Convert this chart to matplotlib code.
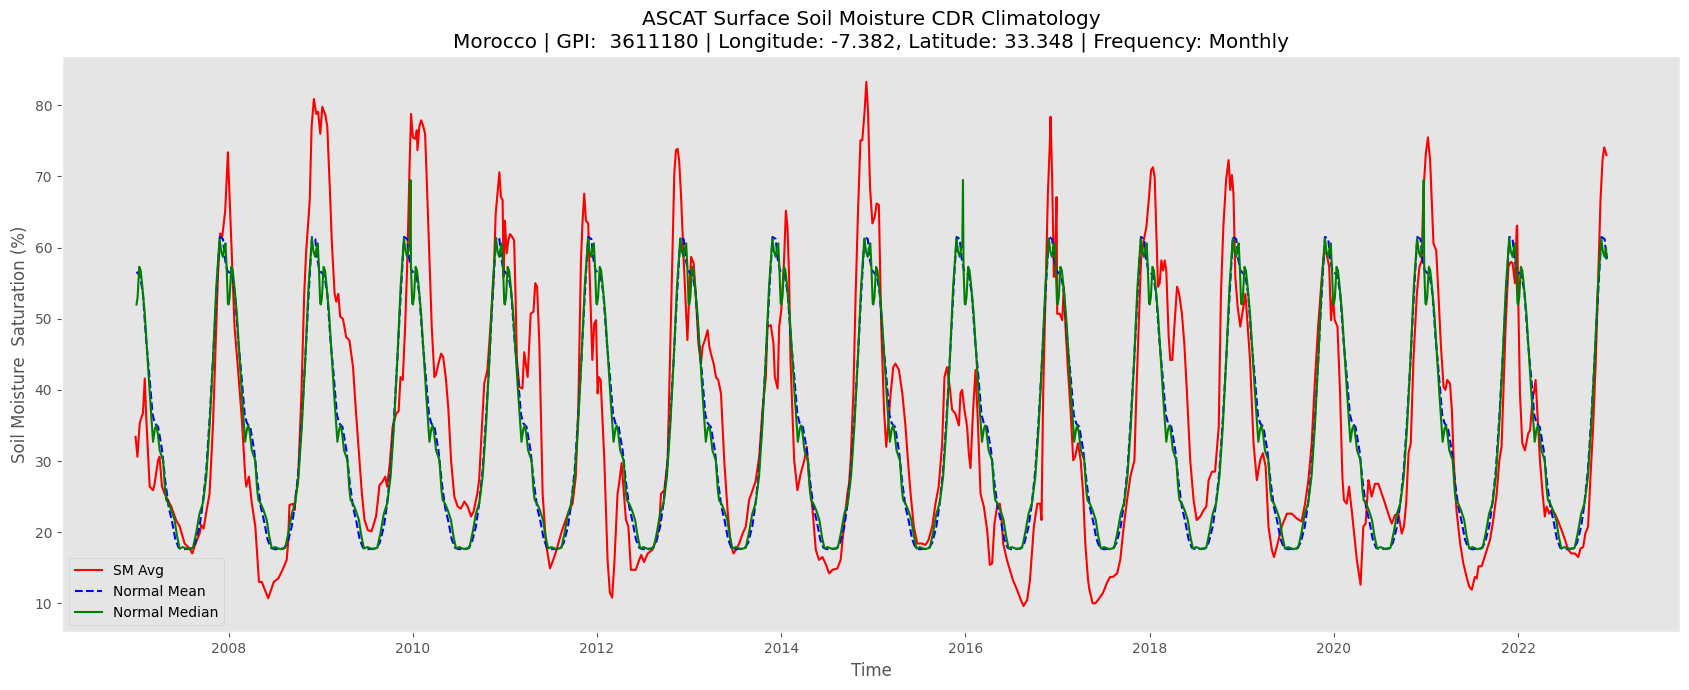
import matplotlib
matplotlib.use("Agg")
import matplotlib.pyplot as plt
import numpy as np
import pandas as pd

# ---------------- data ----------------
# SM Avg: (decimal year, soil moisture %)
sm_avg_points = [
    (2006.99, 33.4), (2007.01, 30.6), (2007.035, 35.3), (2007.06, 36.4), (2007.07, 36.7),
    (2007.09, 41.6), (2007.107, 35.8), (2007.143, 26.4), (2007.18, 25.9), (2007.197, 26.8),
    (2007.234, 30.1), (2007.25, 30.6), (2007.277, 26.4), (2007.306, 25.4), (2007.378, 23.6),
    (2007.43, 21.7), (2007.469, 20.8), (2007.523, 18.4), (2007.577, 17.7), (2007.606, 17.0),
    (2007.65, 18.7), (2007.686, 19.8), (2007.703, 21.0), (2007.729, 20.5), (2007.769, 23.6),
    (2007.794, 25.4), (2007.83, 34.8), (2007.855, 44.2), (2007.884, 55.9), (2007.91, 62.0),
    (2007.931, 61.5), (2007.964, 65.2), (2007.993, 73.4), (2008.01, 67.6), (2008.03, 60.6),
    (2008.065, 48.9), (2008.101, 43.2), (2008.145, 35.7), (2008.181, 27.8), (2008.192, 26.4),
    (2008.221, 27.8), (2008.253, 24.0), (2008.29, 20.8), (2008.318, 15.2), (2008.33, 13.0),
    (2008.36, 13.0), (2008.43, 10.7), (2008.49, 13.0), (2008.54, 13.5), (2008.585, 14.7),
    (2008.63, 16.1), (2008.645, 18.4), (2008.66, 23.8), (2008.70, 24.0), (2008.716, 23.1),
    (2008.73, 25.4), (2008.752, 26.8), (2008.79, 39.5), (2008.82, 53.5), (2008.84, 59.2),
    (2008.88, 66.7), (2008.90, 77.0), (2008.925, 80.9), (2008.95, 78.8), (2008.97, 79.1),
    (2008.994, 76.0), (2009.016, 79.8), (2009.05, 78.6), (2009.07, 77.0), (2009.10, 67.6),
    (2009.12, 60.6), (2009.15, 53.5), (2009.168, 52.4), (2009.19, 53.5), (2009.21, 50.3),
    (2009.24, 50.0), (2009.276, 47.4), (2009.31, 47.0), (2009.35, 43.2), (2009.38, 37.2),
    (2009.42, 30.1), (2009.446, 25.4), (2009.475, 21.7), (2009.51, 20.3), (2009.55, 20.1),
    (2009.576, 21.2), (2009.60, 22.2), (2009.62, 24.5), (2009.637, 26.6), (2009.67, 27.1),
    (2009.70, 27.8), (2009.72, 26.4), (2009.75, 29.7), (2009.78, 34.8), (2009.82, 36.7),
    (2009.845, 37.0), (2009.866, 41.8), (2009.89, 41.4), (2009.916, 48.9), (2009.94, 58.2),
    (2009.963, 70.9), (2009.98, 78.8), (2010.0, 75.5), (2010.025, 75.3), (2010.043, 76.5),
    (2010.05, 73.7), (2010.07, 77.0), (2010.09, 77.9), (2010.11, 77.2), (2010.133, 76.0),
    (2010.15, 69.9), (2010.18, 58.2), (2010.205, 48.9), (2010.234, 41.8), (2010.25, 42.1),
    (2010.278, 43.7), (2010.307, 45.1), (2010.33, 44.6), (2010.36, 41.4), (2010.386, 37.2),
    (2010.415, 30.1), (2010.45, 25.0), (2010.487, 23.6), (2010.52, 23.3), (2010.56, 24.3),
    (2010.596, 23.6), (2010.632, 22.2), (2010.66, 22.9), (2010.70, 25.4), (2010.72, 27.3),
    (2010.75, 34.8), (2010.776, 40.9), (2010.81, 42.8), (2010.84, 48.4), (2010.878, 55.9),
    (2010.90, 64.8), (2010.94, 70.6), (2010.957, 67.1), (2010.975, 66.7), (2010.986, 55.9),
    (2011.0, 63.8), (2011.02, 59.2), (2011.037, 61.0), (2011.055, 61.9), (2011.07, 61.7),
    (2011.10, 61.0), (2011.115, 53.5), (2011.13, 44.2), (2011.157, 40.4), (2011.19, 40.2),
    (2011.21, 45.3), (2011.247, 41.8), (2011.28, 50.7), (2011.31, 51.0), (2011.33, 55.0),
    (2011.35, 54.5), (2011.374, 46.5), (2011.41, 25.4), (2011.446, 18.4), (2011.49, 14.9),
    (2011.536, 16.5), (2011.57, 17.9), (2011.61, 19.8), (2011.66, 21.7), (2011.70, 23.1),
    (2011.735, 24.0), (2011.77, 27.8), (2011.797, 37.2), (2011.826, 58.2), (2011.844, 63.8),
    (2011.862, 67.6), (2011.88, 63.8), (2011.905, 63.4), (2011.927, 53.5), (2011.95, 44.2),
    (2011.97, 49.3), (2011.99, 49.8), (2012.007, 39.5), (2012.02, 41.8), (2012.04, 41.4),
    (2012.08, 30.1), (2012.115, 16.1), (2012.14, 11.5), (2012.165, 10.8), (2012.19, 16.0),
    (2012.223, 25.4), (2012.24, 26.8), (2012.267, 29.7), (2012.314, 21.7), (2012.34, 20.8),
    (2012.368, 14.7), (2012.42, 14.7), (2012.458, 16.1), (2012.48, 16.8), (2012.51, 15.8),
    (2012.55, 17.0), (2012.60, 17.5), (2012.64, 18.9), (2012.675, 20.8), (2012.694, 25.4),
    (2012.73, 25.9), (2012.766, 30.1), (2012.80, 48.9), (2012.838, 70.4), (2012.856, 73.7),
    (2012.874, 73.9), (2012.89, 72.3), (2012.91, 67.6), (2012.94, 58.2), (2012.965, 51.2),
    (2012.98, 47.0), (2013.0, 53.5), (2013.02, 58.7), (2013.048, 57.8), (2013.07, 53.5),
    (2013.10, 46.5), (2013.127, 43.7), (2013.145, 46.1), (2013.17, 47.0), (2013.2, 48.4),
    (2013.218, 46.1), (2013.235, 45.1), (2013.265, 43.7), (2013.29, 41.8), (2013.315, 41.4),
    (2013.345, 39.5), (2013.38, 30.1), (2013.416, 23.1), (2013.45, 18.4), (2013.48, 17.0),
    (2013.507, 17.5), (2013.543, 18.4), (2013.58, 19.8), (2013.615, 20.8), (2013.65, 24.5),
    (2013.688, 25.9), (2013.72, 27.1), (2013.76, 30.6), (2013.796, 37.2), (2013.832, 41.8),
    (2013.85, 48.9), (2013.886, 49.1), (2013.915, 46.5), (2013.93, 41.8), (2013.96, 40.2),
    (2013.977, 48.9), (2014.0, 51.2), (2014.03, 58.2), (2014.05, 65.2), (2014.067, 62.9),
    (2014.085, 55.9), (2014.10, 44.2), (2014.14, 30.1), (2014.175, 25.9), (2014.212, 28.3),
    (2014.25, 30.1), (2014.277, 32.0), (2014.30, 27.8), (2014.34, 23.1), (2014.375, 17.5),
    (2014.41, 16.1), (2014.447, 16.5), (2014.48, 15.6), (2014.52, 14.2), (2014.556, 14.7),
    (2014.61, 14.9), (2014.645, 16.1), (2014.68, 20.8), (2014.718, 25.4), (2014.736, 26.8),
    (2014.754, 30.1), (2014.783, 39.5), (2014.808, 53.5), (2014.834, 65.2), (2014.86, 75.1),
    (2014.88, 75.1), (2014.906, 79.3), (2014.924, 83.3), (2014.942, 79.3), (2014.964, 68.5),
    (2014.99, 63.4), (2015.015, 64.3), (2015.036, 66.2), (2015.06, 66.0), (2015.086, 48.9),
    (2015.116, 37.2), (2015.14, 32.0), (2015.16, 34.8), (2015.188, 39.5), (2015.217, 43.2),
    (2015.24, 43.7), (2015.278, 42.8), (2015.315, 39.5), (2015.35, 34.8), (2015.376, 30.1),
    (2015.405, 25.4), (2015.44, 20.8), (2015.477, 18.4), (2015.53, 18.4), (2015.567, 18.2),
    (2015.6, 18.9), (2015.64, 20.8), (2015.675, 24.0), (2015.71, 26.4), (2015.748, 32.5),
    (2015.773, 41.8), (2015.80, 43.2), (2015.83, 40.4), (2015.856, 37.2), (2015.89, 36.7),
    (2015.93, 35.0), (2015.947, 39.5), (2015.965, 40.0), (2015.99, 37.2), (2016.019, 34.8),
    (2016.037, 31.1), (2016.055, 29.0), (2016.084, 37.2), (2016.11, 42.8), (2016.135, 35.7),
    (2016.164, 25.4), (2016.2, 23.6), (2016.236, 20.3), (2016.265, 15.4), (2016.29, 15.6),
    (2016.315, 21.2), (2016.344, 23.6), (2016.373, 24.0), (2016.388, 22.6), (2016.41, 18.4),
    (2016.45, 16.1), (2016.514, 13.3), (2016.56, 11.9), (2016.60, 10.5), (2016.63, 9.6),
    (2016.67, 10.5), (2016.70, 13.3), (2016.742, 20.8), (2016.78, 24.0), (2016.81, 24.0),
    (2016.825, 21.7), (2016.843, 39.5), (2016.868, 53.5), (2016.894, 67.6), (2016.915, 74.6),
    (2016.923, 78.4), (2016.94, 69.9), (2016.959, 55.9), (2016.975, 60.1), (2016.988, 67.1),
    (2016.995, 50.7), (2017.024, 50.7), (2017.05, 49.8), (2017.067, 54.5), (2017.085, 48.9),
    (2017.11, 43.2), (2017.14, 37.2), (2017.169, 30.1), (2017.19, 30.6), (2017.22, 32.5),
    (2017.25, 30.1), (2017.277, 25.4), (2017.30, 18.4), (2017.33, 13.3), (2017.345, 11.9),
    (2017.38, 10.0), (2017.41, 10.0), (2017.44, 10.5), (2017.49, 11.4), (2017.54, 13.0),
    (2017.57, 13.7), (2017.60, 13.7), (2017.646, 14.2), (2017.68, 16.1), (2017.718, 20.8),
    (2017.754, 24.5), (2017.79, 27.8), (2017.834, 30.1), (2017.855, 39.5), (2017.88, 48.9),
    (2017.906, 58.2), (2017.935, 61.0), (2017.964, 62.9), (2017.99, 66.7), (2018.015, 70.9),
    (2018.036, 71.3), (2018.054, 69.9), (2018.07, 62.9), (2018.09, 54.5), (2018.108, 55.0),
    (2018.127, 58.2), (2018.145, 56.8), (2018.163, 58.2), (2018.18, 56.8), (2018.206, 47.5),
    (2018.224, 44.2), (2018.246, 44.2), (2018.268, 48.9), (2018.297, 54.5), (2018.32, 53.5),
    (2018.35, 50.7), (2018.376, 46.5), (2018.405, 39.5), (2018.44, 30.1), (2018.477, 24.5),
    (2018.51, 21.7), (2018.55, 22.2), (2018.586, 23.1), (2018.615, 23.6), (2018.64, 27.3),
    (2018.676, 28.5), (2018.71, 28.5), (2018.75, 34.8), (2018.774, 53.5), (2018.80, 62.9),
    (2018.83, 69.5), (2018.857, 72.3), (2018.875, 68.1), (2018.893, 70.2), (2018.91, 67.6),
    (2018.93, 55.9), (2018.955, 51.7), (2018.984, 48.9), (2019.012, 51.2), (2019.04, 53.5),
    (2019.063, 49.3), (2019.09, 44.2), (2019.128, 32.5), (2019.164, 27.3), (2019.2, 30.1),
    (2019.23, 31.1), (2019.26, 29.2), (2019.29, 20.8), (2019.327, 17.5), (2019.35, 16.5),
    (2019.39, 18.4), (2019.435, 20.8), (2019.49, 22.6), (2019.544, 22.6), (2019.6, 21.9),
    (2019.65, 21.5), (2019.688, 24.0), (2019.724, 27.3), (2019.76, 32.5), (2019.797, 41.8),
    (2019.83, 48.9), (2019.87, 55.9), (2019.894, 59.2), (2019.92, 59.2), (2019.95, 57.3),
    (2019.97, 49.8), (2019.99, 53.1), (2020.01, 49.8), (2020.04, 48.9), (2020.068, 39.5),
    (2020.093, 27.8), (2020.11, 24.5), (2020.14, 24.0), (2020.165, 26.4), (2020.194, 23.1),
    (2020.22, 19.8), (2020.25, 16.1), (2020.277, 13.7), (2020.29, 12.6), (2020.32, 20.8),
    (2020.345, 21.2), (2020.375, 27.3), (2020.39, 26.4), (2020.41, 25.0), (2020.447, 26.8),
    (2020.483, 26.8), (2020.52, 25.4), (2020.556, 24.0), (2020.59, 22.6), (2020.628, 21.2),
    (2020.664, 22.4), (2020.7, 22.6), (2020.736, 19.8), (2020.76, 20.8), (2020.784, 24.0),
    (2020.81, 31.1), (2020.834, 32.5), (2020.863, 44.2), (2020.9, 53.5), (2020.928, 57.3),
    (2020.953, 58.2), (2020.97, 67.6), (2020.997, 73.2), (2021.02, 75.5), (2021.044, 72.3),
    (2021.08, 60.6), (2021.11, 59.6), (2021.134, 53.5), (2021.16, 46.5), (2021.19, 40.4),
    (2021.21, 40.0), (2021.23, 41.4), (2021.26, 40.9), (2021.28, 37.2), (2021.30, 30.1),
    (2021.33, 23.1), (2021.37, 18.4), (2021.405, 15.6), (2021.44, 13.7), (2021.47, 12.3),
    (2021.496, 11.9), (2021.53, 13.7), (2021.55, 13.5), (2021.57, 15.2), (2021.604, 15.2),
    (2021.66, 17.5), (2021.694, 18.9), (2021.73, 21.7), (2021.767, 25.4), (2021.796, 30.1),
    (2021.82, 32.0), (2021.84, 39.5), (2021.864, 48.9), (2021.894, 57.3), (2021.92, 58.0),
    (2021.94, 57.8), (2021.966, 55.0), (2021.984, 62.9), (2021.99, 63.1), (2022.0, 53.5),
    (2022.02, 39.5), (2022.045, 32.5), (2022.074, 31.5), (2022.11, 33.9), (2022.13, 34.3),
    (2022.157, 39.0), (2022.17, 39.5), (2022.19, 41.4), (2022.21, 36.7), (2022.237, 30.1),
    (2022.266, 25.4), (2022.29, 22.2), (2022.31, 23.6), (2022.338, 22.6), (2022.363, 23.1),
    (2022.4, 22.6), (2022.436, 21.5), (2022.472, 20.3), (2022.51, 18.9), (2022.544, 17.5),
    (2022.58, 17.0), (2022.617, 17.0), (2022.653, 16.5), (2022.678, 17.7), (2022.707, 17.9),
    (2022.73, 19.8), (2022.76, 20.8), (2022.786, 27.8), (2022.815, 34.8), (2022.844, 44.2),
    (2022.87, 55.9), (2022.895, 66.7), (2022.917, 72.3), (2022.935, 74.1), (2022.96, 73.0),
]

# Climatology (repeats every year): fraction of year and value
mean_clim_frac = [0.000, 0.040, 0.070, 0.105, 0.140, 0.175, 0.200, 0.235, 0.278, 0.314,
                  0.350, 0.386, 0.422, 0.458, 0.500, 0.600, 0.640, 0.685, 0.720, 0.758,
                  0.795, 0.831, 0.860, 0.885, 0.905, 0.940, 0.960, 0.985]
mean_clim_value = [56.6, 56.0, 53.5, 47.0, 42.0, 36.5, 35.3, 34.8, 31.5, 27.0,
                   23.5, 21.5, 19.0, 17.8, 17.6, 17.7, 18.5, 20.8, 24.0, 28.7,
                   36.0, 44.2, 51.5, 57.3, 61.5, 61.2, 58.5, 56.8]

median_clim_frac = [0.000, 0.012, 0.030, 0.045, 0.060, 0.090, 0.144, 0.180, 0.200, 0.215,
                    0.230, 0.252, 0.289, 0.310, 0.324, 0.350, 0.379, 0.414, 0.440, 0.469,
                    0.505, 0.560, 0.614, 0.650, 0.685, 0.722, 0.758, 0.794, 0.831, 0.867,
                    0.903, 0.920, 0.939, 0.955, 0.967, 0.980, 0.993]
median_clim_value = [52.0, 53.0, 57.3, 56.8, 55.0, 50.7, 39.5, 32.7, 34.5, 35.0,
                     34.0, 31.5, 30.1, 26.0, 24.5, 24.0, 23.1, 21.7, 19.5, 17.7,
                     17.9, 17.6, 17.8, 20.0, 22.6, 24.1, 27.8, 34.8, 44.2, 54.5,
                     61.3, 59.5, 58.7, 60.0, 60.6, 57.0, 52.2]
median_spike_years = [2009, 2015, 2020]
median_spike_frac = 0.974
median_spike_value = 69.5

clim_years = list(range(2007, 2023))
series_end = 2022.96


def dec_to_dt(y):
    yr = int(np.floor(y))
    start = pd.Timestamp(yr, 1, 1)
    end = pd.Timestamp(yr + 1, 1, 1)
    return start + (end - start) * (y - yr)


def build_clim(fracs, vals, spike_years=(), spike_frac=None, spike_val=None):
    t, v = [], []
    for yr in clim_years:
        pairs = list(zip(fracs, vals))
        if yr in spike_years:
            pairs.append((spike_frac, spike_val))
            pairs.sort()
        for f, val in pairs:
            if yr + f <= series_end:
                t.append(dec_to_dt(yr + f))
                v.append(val)
    return t, v


sm_t = [dec_to_dt(p[0]) for p in sm_avg_points]
sm_v = [p[1] for p in sm_avg_points]
mean_t, mean_v = build_clim(mean_clim_frac, mean_clim_value)
med_t, med_v = build_clim(median_clim_frac, median_clim_value,
                          median_spike_years, median_spike_frac, median_spike_value)
# final points at series end
mean_t.append(dec_to_dt(series_end)); mean_v.append(59.5)
med_t.append(dec_to_dt(series_end)); med_v.append(58.5)

# ---------------- plot ----------------
plt.style.use("ggplot")
fig = plt.figure(figsize=(16.9, 6.9), dpi=100)
ax = fig.add_axes([0.0367, 0.0836, 0.9574, 0.8357])

ax.plot(sm_t, sm_v, color="red", lw=1.5, label="SM Avg")
ax.plot(mean_t, mean_v, color="blue", lw=1.5, ls="--", label="Normal Mean")
ax.plot(med_t, med_v, color="green", lw=1.5, label="Normal Median")

ax.grid(False)
ax.set_title("ASCAT Surface Soil Moisture CDR Climatology\n"
             "Morocco | GPI:  3611180 | Longitude: -7.382, Latitude: 33.348 | Frequency: Monthly",
             color="black", fontsize=14.4)
ax.set_xlabel("Time")
ax.set_ylabel("Soil Moisture  Saturation (%)")
ax.legend(loc="lower left")

fig.savefig("out.png", dpi=100)
